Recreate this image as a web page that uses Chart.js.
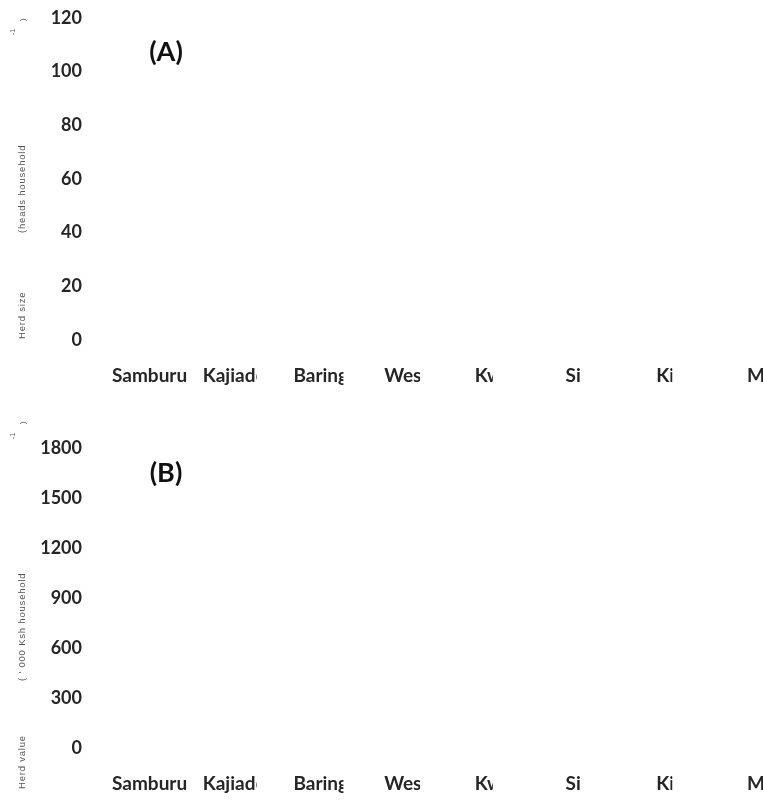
<!DOCTYPE html>
<html>
<head>
<meta charset="utf-8">
<script src="https://cdn.jsdelivr.net/npm/chart.js@4.4.1/dist/chart.umd.min.js"></script>
<style>
  body { margin: 0; background: #fff; }
  canvas { display: block; }
</style>
</head>
<body>
<canvas id="panelA" width="763" height="400"></canvas>
<canvas id="panelB" width="763" height="400"></canvas>
<script>
// Counties along the horizontal axis
const counties = ['Samburu', 'Kajiado', 'Baringo', 'West Pokot', 'Kwale', 'Siaya', 'Kitui', 'Marsabit'];

// Vertical axis ticks for each panel
const herdSizeTicks = [0, 20, 40, 60, 80, 100, 120];
const herdValueTicks = [0, 300, 600, 900, 1200, 1500, 1800];

// Series: no bars are plotted in either panel
const herdSizeValues = [null, null, null, null, null, null, null, null];
const herdValueValues = [null, null, null, null, null, null, null, null];

// Each county label is cut off after this many pixels
const labelClipWidths = [84, 54, 50, 36, 18, 15, 16, 20];

const TICK_FONT = { family: 'Lato', size: 18, weight: 'bold' };
const TEXT_DARK = '#262626';

// Draws the clipped county names under the plot area
const countyLabels = {
  id: 'countyLabels',
  afterDraw(chart) {
    const xs = chart.scales.x;
    const ctx = chart.ctx;
    ctx.save();
    ctx.font = 'bold 19px Lato';
    ctx.fillStyle = TEXT_DARK;
    ctx.textAlign = 'left';
    ctx.textBaseline = 'middle';
    const y = xs.top + 36;
    counties.forEach((name, i) => {
      const x = xs.getPixelForTick(i) - 3;
      ctx.save();
      ctx.beginPath();
      ctx.rect(x - 2, y - 15, labelClipWidths[i] + 2, 30);
      ctx.clip();
      ctx.fillText(name, x, y);
      ctx.restore();
    });
    ctx.restore();
  }
};

// Vertical axis caption, drawn in pieces, plus the panel letter
const panelText = {
  id: 'panelText',
  afterDraw(chart, args, opts) {
    const ctx = chart.ctx;
    const area = chart.chartArea;
    ctx.save();
    ctx.fillStyle = '#555';
    ctx.textAlign = 'left';
    ctx.textBaseline = 'middle';
    (opts.caption || []).forEach(p => {
      ctx.save();
      ctx.font = p.size + 'px "Liberation Sans"';
      ctx.letterSpacing = (p.spacing || 0) + 'px';
      ctx.translate(p.x, p.y);
      ctx.rotate(-Math.PI / 2);
      ctx.fillText(p.text, 0, 0);
      ctx.restore();
    });
    ctx.fillStyle = '#111';
    ctx.font = 'bold 27px Lato';
    ctx.textAlign = 'center';
    ctx.fillText(opts.letter, area.left + opts.dx, area.top + opts.dy);
    ctx.restore();
  }
};

function makePanel(id, values, ticks, topPad, axisHeight, caption, letter, letterOffset) {
  return new Chart(document.getElementById(id), {
    type: 'bar',
    data: {
      labels: counties,
      datasets: [{ data: values, backgroundColor: '#7f7f7f' }]
    },
    options: {
      responsive: false,
      animation: false,
      layout: { padding: { top: topPad, right: 13, left: 0, bottom: 0 } },
      plugins: {
        legend: { display: false },
        tooltip: { enabled: false },
        panelText: { caption, letter, dx: letterOffset.dx, dy: letterOffset.dy }
      },
      scales: {
        x: {
          offset: false,
          grid: { display: false, drawTicks: false },
          border: { display: false },
          ticks: { display: false },
          afterFit(s) { s.height = axisHeight; }
        },
        y: {
          min: ticks[0],
          max: ticks[ticks.length - 1],
          grid: { display: false, drawTicks: false },
          border: { display: false },
          afterBuildTicks(s) { s.ticks = ticks.map(v => ({ value: v })); },
          ticks: {
            font: TICK_FONT,
            color: TEXT_DARK,
            padding: 33,
            callback: v => String(v)
          },
          afterFit(s) {
            s.width = 115;
            // keep the label gap from pushing the plot area down
            s.paddingTop = 0;
            s.paddingBottom = 0;
          }
        }
      }
    },
    plugins: [countyLabels, panelText]
  });
}

makePanel('panelA', herdSizeValues, herdSizeTicks, 18, 60, [
  { text: 'Herd size', x: 22, y: 339, size: 9.5, spacing: 0.8 },
  { text: '(heads household', x: 22, y: 233, size: 9.5, spacing: 0.8 },
  { text: '-1', x: 13, y: 35, size: 7 },
  { text: ')', x: 23, y: 21, size: 8 }
], '(A)', { dx: 51, dy: 34 });

makePanel('panelB', herdValueValues, herdValueTicks, 48, 52, [
  { text: 'Herd value', x: 22, y: 389, size: 9.5, spacing: 0.8 },
  { text: "( ' 000 Ksh household", x: 22, y: 281, size: 9.5, spacing: 0.8 },
  { text: '-1', x: 13, y: 39, size: 7 },
  { text: ')', x: 23, y: 24, size: 8 }
], '(B)', { dx: 51, dy: 25 });
</script>
</body>
</html>
